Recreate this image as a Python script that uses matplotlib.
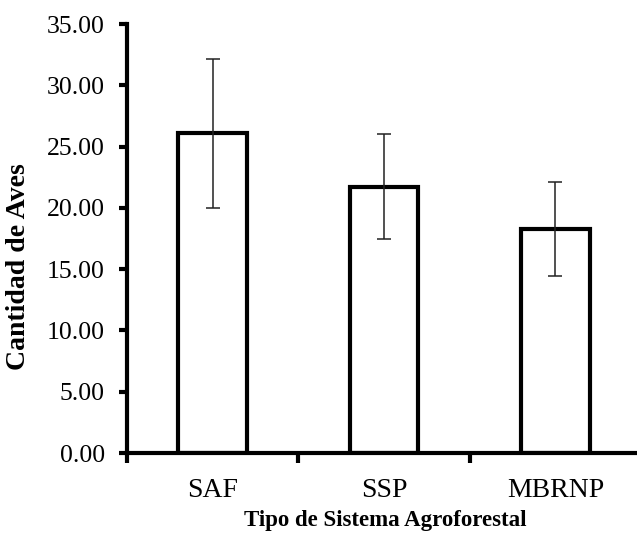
import matplotlib.pyplot as plt
import numpy as np

# Data
categorias = ['SAF', 'SSP', 'MBRNP']
medias = [26.07, 21.72, 18.27]
errores = [6.07, 4.30, 3.85]
y_ticks = [0, 5, 10, 15, 20, 25, 30, 35]

plt.rcParams['font.family'] = ['Liberation Serif', 'DejaVu Serif']

fig = plt.figure(figsize=(6.37, 5.35), dpi=100)
ax = fig.add_axes([127 / 637, 82 / 535, 514 / 637, 429 / 535])

x = np.arange(len(categorias))
ax.bar(x, medias, width=0.4, color='white', edgecolor='black', linewidth=3,
       zorder=2)
ax.errorbar(x, medias, yerr=errores, fmt='none', ecolor='#222222',
            elinewidth=1.1, capsize=5, capthick=1.1, zorder=3)

ax.set_xlim(-0.5, 2.5)
ax.set_ylim(0, 35)
ax.set_yticks(y_ticks)
ax.set_yticklabels([f'{v:.2f}' for v in y_ticks], fontsize=18.5)

# category labels centred, ticks at the boundaries
ax.set_xticks([-0.5, 0.5, 1.5, 2.5])
ax.set_xticklabels([])
ax.set_xticks(x, minor=True)
ax.set_xticklabels(categorias, minor=True, fontsize=20)
ax.tick_params(axis='x', which='minor', length=0, pad=18)
ax.tick_params(axis='x', which='major', direction='out', length=7, width=3)
ax.tick_params(axis='y', direction='out', length=6, width=3, pad=10)

for side in ['top', 'right']:
    ax.spines[side].set_visible(False)
for side in ['left', 'bottom']:
    ax.spines[side].set_linewidth(3)

ax.set_ylabel('Cantidad de Aves', fontsize=20, fontweight='bold')
ax.yaxis.set_label_coords(-0.187, 0.434)
ax.set_xlabel('Tipo de Sistema Agroforestal', fontsize=16.5, fontweight='bold')
ax.xaxis.set_label_coords(0.502, -0.134)

fig.savefig('out.png', dpi=100)
